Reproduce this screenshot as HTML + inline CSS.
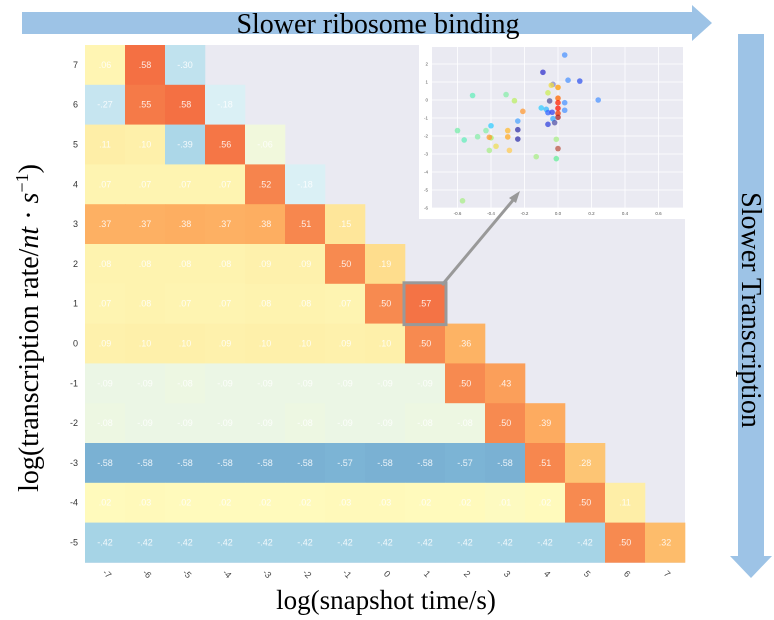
<!DOCTYPE html>
<html><head><meta charset="utf-8"><style>
body{margin:0;background:#fff;width:774px;height:620px;overflow:hidden;font-family:"Liberation Sans",sans-serif}
svg{position:absolute;left:0;top:0}
</style></head><body>
<svg id="s" width="774" height="620">
<g><polygon points="22,12 692,12 692,5 712,23 692,41 692,34 22,34" fill="#9dc3e6"/><text x="378" y="33" text-anchor="middle" font-family="Liberation Serif,serif" font-size="28" fill="#000">Slower ribosome binding</text></g>
<g><polygon points="738,34 764,34 764,556 772,556 751,578 730,556 738,556" fill="#9dc3e6"/><text transform="translate(742,310) rotate(90)" text-anchor="middle" font-family="Liberation Serif,serif" font-size="28" fill="#000">Slower Transcription</text></g>
<rect x="85" y="45" width="600" height="518" fill="#eaeaf2"/>
<g id="cells"></g>
<text transform="translate(38,328) rotate(-90)" text-anchor="middle" font-family="Liberation Serif,serif" font-size="28">log(transcription rate/<tspan font-style="italic">nt</tspan> · <tspan font-style="italic">s</tspan><tspan dy="-10" font-size="18">−1</tspan><tspan dy="10">)</tspan></text>
<text x="386" y="609" text-anchor="middle" font-family="Liberation Serif,serif" font-size="27">log(snapshot time/s)</text>
<g id="inset"></g>
</svg>
<script>
const cols=[-7,-6,-5,-4,-3,-2,-1,0,1,2,3,4,5,6,7];
const rows=[7,6,5,4,3,2,1,0,-1,-2,-3,-4,-5];
const r7=[.06,.58,-.30];
const r6=[-.27,.55,.58,-.18];
const r5=[.11,.10,-.39,.56,-.06];
const r4=[.07,.07,.07,.07,.52,-.18];
const r3=[.37,.37,.38,.37,.38,.51,.15];
const r2=[.08,.08,.08,.08,.09,.09,.50,.19];
const r1=[.07,.08,.07,.07,.08,.08,.07,.50,.57];
const r0=[.09,.10,.10,.09,.10,.10,.09,.10,.50,.36];
const rm1=[-.09,-.09,-.08,-.09,-.09,-.09,-.09,-.09,-.09,.50,.43];
const rm2=[-.08,-.09,-.09,-.09,-.09,-.08,-.09,-.09,-.08,-.08,.50,.39];
const rm3=[-.58,-.58,-.58,-.58,-.58,-.58,-.57,-.58,-.58,-.57,-.58,.51,.28];
const rm4=[.02,.03,.02,.02,.02,.02,.03,.03,.02,.02,.01,.02,.50,.11];
const rm5=[-.42,-.42,-.42,-.42,-.42,-.42,-.42,-.42,-.42,-.42,-.42,-.42,-.42,.50,.32];
const matrix=[r7,r6,r5,r4,r3,r2,r1,r0,rm1,rm2,rm3,rm4,rm5];
const ptX=[0.04,-0.09,0.06,0.13,0.24,-0.51,-0.31,-0.26,-0.21,-0.24,-0.40,-0.24,-0.24,-0.30,-0.30,-0.29,-0.37,-0.40,-0.41,-0.41,-0.43,-0.48,-0.56,-0.60,-0.57,-0.13,-0.01,-0.01,0.00,-0.03,-0.04,0.00,-0.06,-0.05,0.00,0.00,0.00,0.00,0.00,0.04,0.04,-0.10,-0.07,-0.06,-0.035,-0.03,-0.02,-0.06];
const ptY=[2.5,1.54,1.1,1.05,0.0,0.25,0.3,-0.04,-0.63,-1.17,-1.43,-1.65,-2.17,-1.7,-2.05,-2.8,-2.57,-2.1,-2.07,-2.8,-1.7,-2.04,-2.22,-1.7,-5.6,-3.15,-3.26,-2.18,-2.7,0.87,0.82,0.7,0.4,-0.05,0.1,-0.15,-0.46,-0.74,-0.96,-0.15,-0.57,-0.44,-0.52,-0.7,-0.68,-1.04,-1.26,-1.35];
const ptC=["#4d94ff","#3333cc","#4d94ff","#3355ee","#4d94ff","#66eebb","#88eeaa","#bbee66","#ff9933","#4da6ff","#33ccff","#3333aa","#3333aa","#ffbb33","#ffaa22","#ffcc55","#eedd55","#aaee66","#ff9933","#aaee88","#88eeaa","#88eeaa","#66eebb","#77eeaa","#aaee88","#aaee88","#66ee99","#aaee88","#bb5544","#8888cc","#eedd44","#ff9900","#ccee55","#555599","#ff6600","#ff2200","#ff1100","#ee3300","#aa2222","#4d94ff","#4d94ff","#33ccff","#33bbff","#3366ff","#3344ee","#33aaff","#5555aa","#3344dd"];
const xTicks=[-0.6,-0.4,-0.2,0.0,0.2,0.4,0.6];
const yTicks=[2,1,0,-1,-2,-3,-4,-5,-6];

const NS="http://www.w3.org/2000/svg";
function mk(t,a,p){const e=document.createElementNS(NS,t);for(const k in a)e.setAttribute(k,a[k]);p.appendChild(e);return e;}
const x0=85,y0=45,cw=40,ch=39.8;
const xCell=i=>x0+i*cw, yCell=j=>y0+j*ch;
const stops=[[-0.6,[116,173,209]],[-0.42,[166,212,230]],[-0.27,[198,229,240]],[-0.15,[224,243,247]],[-0.06,[241,248,220]],[0.02,[255,250,188]],[0.1,[254,240,170]],[0.18,[254,224,144]],[0.3,[253,192,110]],[0.38,[253,174,97]],[0.5,[247,138,80]],[0.58,[244,112,67]]];
function col(v){for(let i=0;i<stops.length-1;i++){const a=stops[i],b=stops[i+1];if(v<=b[0]){const t=Math.max(0,(v-a[0])/(b[0]-a[0]));return "rgb("+a[1].map((c,k)=>Math.round(c+(b[1][k]-c)*t)).join(",")+")";}}return "rgb(244,112,67)";}
function fmt(v){const s=Math.abs(v).toFixed(2).slice(1);return (v<0?"-":"")+s;}
const g=document.getElementById('cells');
matrix.forEach((row,j)=>{row.forEach((v,i)=>{
 const r=mk('rect',{x:xCell(i),y:yCell(j),width:cw+0.3,height:ch+0.3,fill:col(v)},g);
 
 
 const t=mk('text',{x:xCell(i)+cw/2,y:yCell(j)+ch/2+3,'text-anchor':'middle','font-size':'9',fill:'rgba(255,255,255,0.85)'},g);
 t.textContent=fmt(v);
 
 
});});
rows.forEach((r,j)=>{const t=mk('text',{x:78,y:yCell(j)+ch/2+3,'text-anchor':'end','font-size':'9',fill:'#333'},g);t.textContent=r;
 
 });
cols.forEach((c,i)=>{const t=mk('text',{transform:`translate(${xCell(i)+cw/2},576) rotate(45)`,'text-anchor':'middle','font-size':'9',fill:'#444'},g);t.textContent=c;
 
 });
const hb=mk('rect',{x:xCell(8)-1,y:yCell(6)-1,width:cw+2,height:ch+2,fill:'none',stroke:'#999',"stroke-width":3},g);


const ig=document.getElementById('inset');
mk('rect',{x:419,y:44,width:266,height:175,fill:'#fff'},ig);
const px0=432,px1=683,py0=47,py1=208;
mk('rect',{x:px0,y:py0,width:px1-px0,height:py1-py0,fill:'#eaeaf2'},ig);
const sx=v=>558+v*167.5, sy=v=>100-v*18;
xTicks.forEach(v=>{mk('line',{x1:sx(v),x2:sx(v),y1:py0,y2:py1,stroke:'#fff','stroke-width':0.8},ig);const t=mk('text',{x:sx(v),y:215,'text-anchor':'middle','font-size':'4.5',fill:'#555'},ig);t.textContent=v.toFixed(1);
 
 });
yTicks.forEach(v=>{mk('line',{x1:px0,x2:px1,y1:sy(v),y2:sy(v),stroke:'#fff','stroke-width':0.8},ig);const t=mk('text',{x:428,y:sy(v)+1.5,'text-anchor':'end','font-size':'4.5',fill:'#555'},ig);t.textContent=v;
 
 });
ptX.forEach((x,i)=>{const c=mk('circle',{cx:sx(x),cy:sy(ptY[i]),r:2.8,fill:ptC[i],'fill-opacity':0.75},ig);
 
 });
const ar=mk('line',{x1:442,y1:285,x2:514,y2:199,stroke:'#999','stroke-width':3},ig);


mk('polygon',{points:'520,191 509,198 516,203',fill:'#999'},ig);
</script>
</body></html>
